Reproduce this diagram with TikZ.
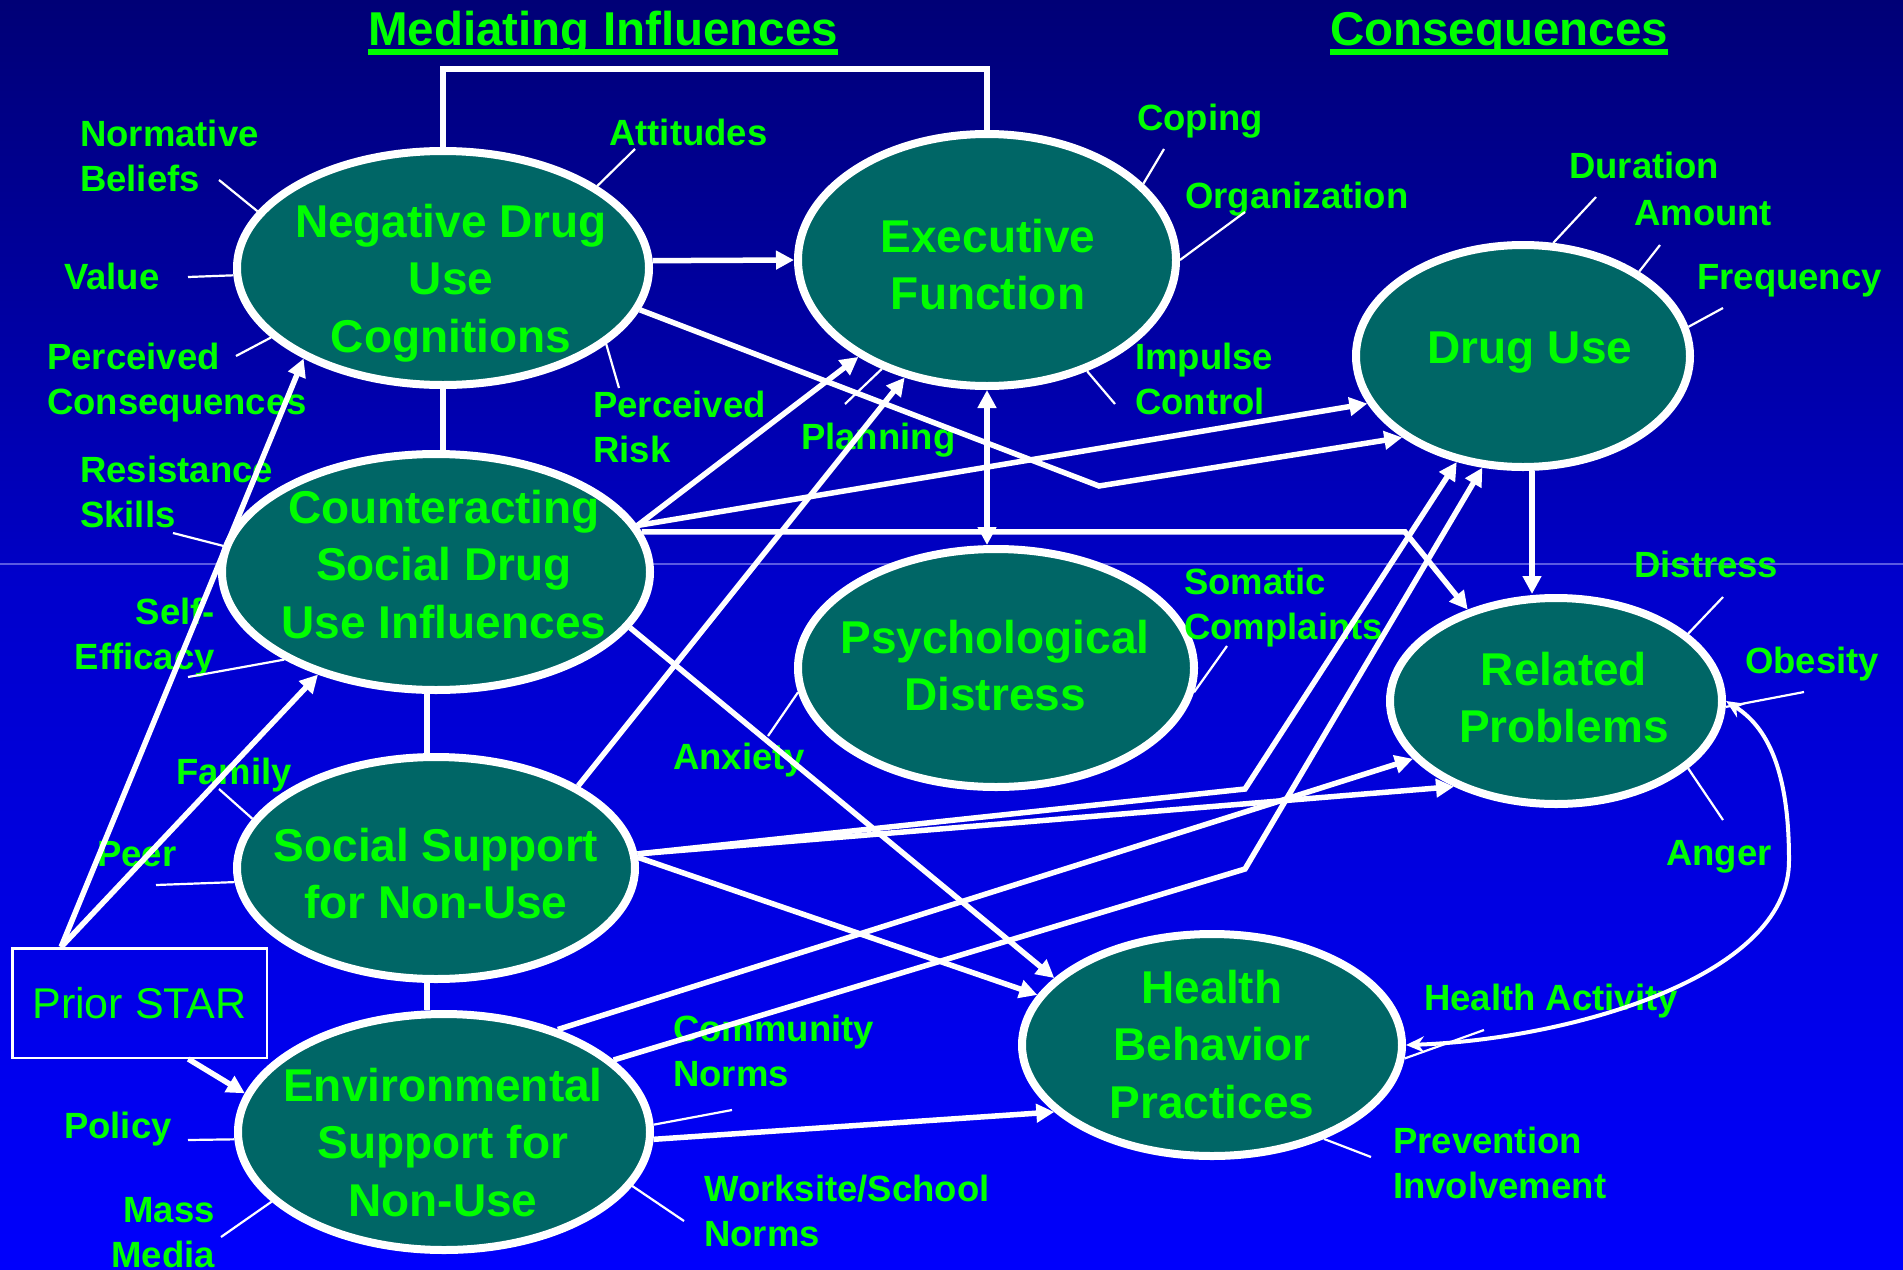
\documentclass[tikz,border=0pt]{standalone}
\usepackage{fontspec}
\setmainfont{Liberation Sans}
\usetikzlibrary{shapes.geometric,arrows.meta,calc}
\definecolor{txtgreen}{RGB}{0,255,0}
\definecolor{ellfill}{RGB}{0,102,102}
\definecolor{bgtop}{RGB}{0,0,118}
\definecolor{bgseamA}{RGB}{0,0,196}
\definecolor{bgseamB}{RGB}{0,0,202}
\definecolor{bgbot}{RGB}{0,0,252}
\definecolor{seamline}{RGB}{90,90,225}
\newcommand\ellfont{\fontsize{46}{57.5}\selectfont\bfseries}
\newcommand\labfont{\fontsize{36.5}{45}\selectfont\bfseries}
\newcommand\ttlfont{\fontsize{47.5}{57}\selectfont\bfseries}
\newcommand\boxfont{\fontsize{43}{50}\selectfont}
\begin{document}
\begin{tikzpicture}[x=1pt,y=-1pt,
  ell/.style={ellipse, draw=white, line width=8pt, fill=ellfill, inner sep=0pt},
  etext/.style={text=txtgreen, font=\ellfont, anchor=base, inner sep=0pt},
  lab/.style={text=txtgreen, font=\labfont, inner sep=0pt},
  ttl/.style={text=txtgreen, font=\ttlfont, inner sep=0pt, anchor=base west},
  tip/.style={-{Triangle[length=18pt,width=18pt]}},
  conn/.style={draw=white, line width=5.5pt, tip},
  dbl/.style={draw=white, line width=5.5pt, {Triangle[length=18pt,width=18pt]}-{Triangle[length=18pt,width=18pt]}},
  curv/.style={draw=white, line width=4pt, {Stealth[length=18pt,width=16pt]}-{Stealth[length=18pt,width=16pt]}},
  link/.style={draw=white, line width=5.5pt},
  tick/.style={draw=white, line width=2.2pt}]
\useasboundingbox (0,0) rectangle (1903,1269);
% background bands
\shade[top color=bgtop, bottom color=bgseamA] (0,0) rectangle (1903,564);
\shade[top color=bgseamB, bottom color=bgbot] (0,564) rectangle (1903,1269);
\draw[seamline, line width=1.2pt] (0,564) -- (1903,564);

% titles
\node[ttl] (tMed) at (368,45) {Mediating Influences};
\node[ttl] (tCons) at (1330,45) {Consequences};
\fill[txtgreen] ([yshift=-4pt]tMed.base west) rectangle ([yshift=-10pt]tMed.base east);
\fill[txtgreen] ([yshift=-4pt]tCons.base west) rectangle ([yshift=-10pt]tCons.base east);

% constructs
\node[ell, minimum width=412pt, minimum height=234pt] (neg) at (443,268) {};
\node[ell, minimum width=378pt, minimum height=252pt] (exec) at (987,260) {};
\node[ell, minimum width=334pt, minimum height=222pt] (drug) at (1523,356) {};
\node[ell, minimum width=428pt, minimum height=236pt] (cnt) at (436,572) {};
\node[ell, minimum width=396pt, minimum height=238pt] (psy) at (996,668) {};
\node[ell, minimum width=332pt, minimum height=206pt] (rel) at (1556,701) {};
\node[ell, minimum width=398pt, minimum height=222pt] (ss) at (436,868) {};
\node[ell, minimum width=412pt, minimum height=236pt] (env) at (444,1132) {};
\node[ell, minimum width=380pt, minimum height=222pt] (hb) at (1212,1045) {};

\node[etext] (negT) at (451,237) {\begin{tabular}[t]{@{}c@{}}Negative Drug\\Use\\Cognitions\end{tabular}};
\node[etext] (execT) at (988,252) {\begin{tabular}[t]{@{}c@{}}Executive\\Function\end{tabular}};
\node[etext] (drugT) at (1530,363) {Drug Use};
\node[etext] (cntT) at (444,523) {\begin{tabular}[t]{@{}c@{}}Counteracting\\Social Drug\\Use Influences\end{tabular}};
\node[etext] (psyT) at (995,653) {\begin{tabular}[t]{@{}c@{}}Psychological\\Distress\end{tabular}};
\node[etext] (relT) at (1564,685) {\begin{tabular}[t]{@{}c@{}}Related\\Problems\end{tabular}};
\node[etext] (ssT) at (436,861) {\begin{tabular}[t]{@{}c@{}}Social Support\\for Non-Use\end{tabular}};
\node[etext] (envT) at (443,1101) {\begin{tabular}[t]{@{}c@{}}Environmental\\Support for\\Non-Use\end{tabular}};
\node[etext] (hbT) at (1212,1003) {\begin{tabular}[t]{@{}c@{}}Health\\Behavior\\Practices\end{tabular}};

% prior program box
\node[draw=white, line width=2.5pt, minimum width=254.5pt, minimum height=109.5pt,
      inner sep=0pt, text=txtgreen, font=\boxfont] (prior) at (139.5,1003) {Prior STAR};

% indicator labels
\node[lab, anchor=base west] (lNorm) at (80,146) {\begin{tabular}[t]{@{}l@{}}Normative\\Beliefs\end{tabular}};
\node[lab, anchor=base west] (lAtt) at (609,145) {Attitudes};
\node[lab, anchor=base west] (lVal) at (64,289) {Value};
\node[lab, anchor=base west] (lPCon) at (47,369) {\begin{tabular}[t]{@{}l@{}}Perceived\\Consequences\end{tabular}};
\node[lab, anchor=base west] (lRisk) at (593,417) {\begin{tabular}[t]{@{}l@{}}Perceived\\Risk\end{tabular}};
\node[lab, anchor=base west] (lRes) at (80,482) {\begin{tabular}[t]{@{}l@{}}Resistance\\Skills\end{tabular}};
\node[lab, anchor=base east] (lSelf) at (215,624) {\begin{tabular}[t]{@{}r@{}}Self-\\Efficacy\end{tabular}};
\node[lab, anchor=base west] (lFam) at (176,784) {Family};
\node[lab, anchor=base west] (lPeer) at (97,866) {Peer};
\node[lab, anchor=base west] (lPol) at (64,1138) {Policy};
\node[lab, anchor=base east] (lMass) at (215,1222) {\begin{tabular}[t]{@{}r@{}}Mass\\Media\end{tabular}};
\node[lab, anchor=base west] (lAnx) at (673,769) {Anxiety};
\node[lab, anchor=base west] (lCom) at (673,1041) {\begin{tabular}[t]{@{}l@{}}Community\\Norms\end{tabular}};
\node[lab, anchor=base west] (lWork) at (704,1201) {\begin{tabular}[t]{@{}l@{}}Worksite/School\\Norms\end{tabular}};
\node[lab, anchor=base west] (lPlan) at (801,449) {Planning};
\node[lab, anchor=base west] (lCop) at (1137,130) {Coping};
\node[lab, anchor=base west] (lOrg) at (1185,208) {Organization};
\node[lab, anchor=base west] (lImp) at (1135,369) {\begin{tabular}[t]{@{}l@{}}Impulse\\Control\end{tabular}};
\node[lab, anchor=base west] (lDur) at (1569,178) {Duration};
\node[lab, anchor=base west] (lAmt) at (1634,225) {Amount};
\node[lab, anchor=base west] (lFreq) at (1697,289) {Frequency};
\node[lab, anchor=base west] (lDis) at (1634,577) {Distress};
\node[lab, anchor=base west] (lSom) at (1184,594) {\begin{tabular}[t]{@{}l@{}}Somatic\\Complaints\end{tabular}};
\node[lab, anchor=base west] (lObe) at (1745,673) {Obesity};
\node[lab, anchor=base west] (lAng) at (1666,865) {Anger};
\node[lab, anchor=base west] (lHA) at (1424,1010) {Health Activity};
\node[lab, anchor=base west] (lPrev) at (1393,1153) {\begin{tabular}[t]{@{}l@{}}Prevention\\Involvement\end{tabular}};

% free ends of the indicator ticks
\coordinate (fNorm) at (219,180);
\coordinate (fAtt) at (635,149);
\coordinate (fVal) at (188,277);
\coordinate (fPCon) at (236,356);
\coordinate (fRisk) at (619,388);
\coordinate (fRes) at (173,533);
\coordinate (fSelf) at (188,677);
\coordinate (fFam) at (219,789);
\coordinate (fPeer) at (156,885);
\coordinate (fPol) at (188,1140);
\coordinate (fMass) at (221,1237);
\coordinate (fAnx) at (768,736);
\coordinate (fCom) at (732,1110);
\coordinate (fWork) at (684,1221);
\coordinate (fPlan) at (845,404);
\coordinate (fCop) at (1164,149);
\coordinate (fOrg) at (1245,212);
\coordinate (fImp) at (1115,404);
\coordinate (fDur) at (1596,197);
\coordinate (fAmt) at (1660,245);
\coordinate (fFreq) at (1723,308);
\coordinate (fDis) at (1723,597);
\coordinate (fSom) at (1227,646);
\coordinate (fObe) at (1804,692);
\coordinate (fAng) at (1723,820);
\coordinate (fHA) at (1484,1030);
\coordinate (fPrev) at (1371,1157);

\draw[tick] (fNorm) -- (neg.163.7);
\draw[tick] (fAtt) -- (neg.28.5);
\draw[tick] (fVal) -- (neg.182);
\draw[tick] (fPCon) -- (neg.202.5);
\draw[tick] (fRisk) -- (neg.-25.9);
\draw[tick] (fRes) -- (cnt.173.5);
\draw[tick] (fSelf) -- (cnt.210);
\draw[tick] (fFam) -- (ss.165.5);
\draw[tick] (fPeer) -- (ss.184.8);
\draw[tick] (fPol) -- (env.182.2);
\draw[tick] (fMass) -- (env.202.7);
\draw[tick] (fAnx) -- (psy.187);
\draw[tick] (fCom) -- (env.2.2);
\draw[tick] (fWork) -- (env.-16.8);
\draw[tick] (fPlan) -- (exec.-134.7);
\draw[tick] (fCop) -- (exec.26.3);
\draw[tick] (fOrg) -- (exec.0.6);
\draw[tick] (fImp) -- (exec.-48.5);
\draw[tick] (fDur) -- (drug.75.8);
\draw[tick] (fAmt) -- (drug.36.1);
\draw[tick] (fFreq) -- (drug.10.7);
\draw[tick] (fDis) -- (rel.27.7);
\draw[tick] (fSom) -- (psy.-7.1);
\draw[tick] (fObe) -- (rel.-2.3);
\draw[tick] (fAng) -- (rel.-27.7);
\draw[tick] (fHA) -- (hb.-4.1);
\draw[tick] (fPrev) -- (hb.-40.6);

% bend points of the routed paths
\coordinate (brk) at (715,69);
\coordinate (k1) at (1099,486);
\coordinate (k2) at (1405,532);
\coordinate (k3) at (1245,789);
\coordinate (k4) at (1245,869);
\coordinate (ps) at ($(prior.north west)!0.195!(prior.north east)$);
\coordinate (pb) at ($(prior.south west)!0.69!(prior.south east)$);

% structural links
\draw[link] (neg.north) |- (brk) -| (exec.north);
\draw[link] (neg.south) -- (neg.south |- cnt.north);
\draw[link] ([xshift=-9pt]cnt.south) -- ([xshift=-9pt]cnt.south |- ss.north);
\draw[link] ([xshift=-9pt]ss.south) -- ([xshift=-9pt]ss.south |- env.north);

% paths
\draw[conn] (neg.2) -- (exec.west);
\draw[conn] (neg.-12) -- (k1) -- (drug.-146);
\draw[conn] (cnt.13) -- (drug.-163);
\draw[conn] (cnt.13) -- (exec.-143);
\draw[conn] (cnt.11) -- (cnt.11 -| k2) -- (rel.134);
\draw[dbl] (exec.south) -- (exec.south |- psy.north);
\draw[conn] (cnt.-16) -- (hb.157.6);
\draw[conn] (ss.30.7) -- (exec.-125.4);
\draw[conn] (ss.4.5) -- (k3) -- (drug.-122);
\draw[conn] (ss.4.5) -- (rel.-140.3);
\draw[conn] (ss.3.4) -- (hb.164.2);
\draw[conn] (env.42.9) -- (rel.-158.3);
\draw[conn] (env.23.5) -- (k4) -- (drug.-110);
\draw[conn] (env.-2.7) -- (hb.-157.9);
\draw[conn] (ps) -- (neg.-147.9);
\draw[conn] (ps) -- (cnt.-139.3);
\draw[conn] (pb) -- (env.169);
\draw[conn] ([xshift=9pt]drug.south) -- ([xshift=9pt]drug.south |- rel.north);
\draw[curv] (hb.east) .. controls (1560,1040) and (1790,980) .. (1789,860)
            .. controls (1789,780) and (1772,730) .. (rel.east);
\end{tikzpicture}
\end{document}
